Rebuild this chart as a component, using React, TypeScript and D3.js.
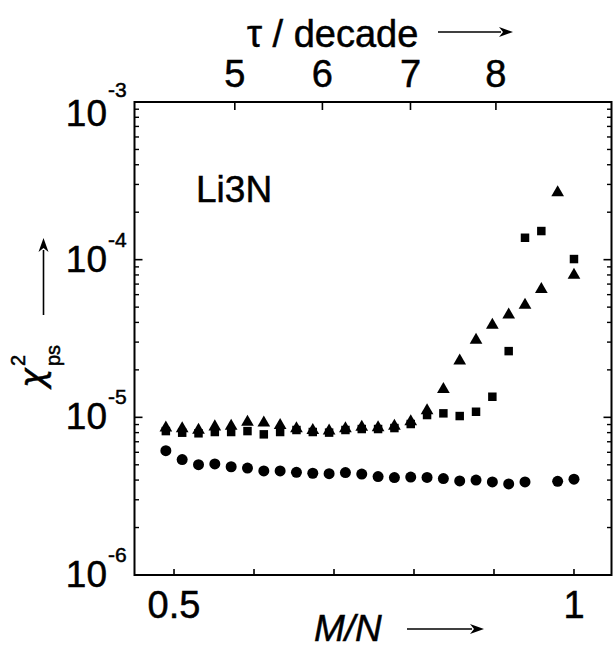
import React from "react";
import * as d3 from "d3";

// ---- data ----
const N_SITES = 49;
const circleM = [24, 25, 26, 27, 28, 29, 30, 31, 32, 33, 34, 35, 36, 37, 38, 39, 40, 41, 42, 43, 44, 45, 46, 48, 49];
const circleVal = [6.14e-6, 5.4e-6, 5.01e-6, 5.06e-6, 4.86e-6, 4.77e-6, 4.57e-6, 4.57e-6, 4.48e-6, 4.42e-6, 4.39e-6, 4.46e-6, 4.37e-6, 4.21e-6, 4.15e-6, 4.18e-6, 4.16e-6, 4.09e-6, 3.95e-6, 4.0e-6, 3.89e-6, 3.78e-6, 3.89e-6, 3.93e-6, 4.05e-6];

const triangleM = [24, 25, 26, 27, 28, 29, 30, 31, 32, 33, 34, 35, 36, 37, 38, 39, 40, 41, 42, 43, 44, 45, 46, 47, 48, 49];
const triangleVal = [8.59e-6, 8.47e-6, 8.31e-6, 8.72e-6, 8.81e-6, 9.34e-6, 9.24e-6, 8.9e-6, 8.47e-6, 8.27e-6, 8.21e-6, 8.49e-6, 8.68e-6, 8.62e-6, 8.81e-6, 9.41e-6, 1.104e-5, 1.505e-5, 2.28e-5, 3.09e-5, 3.85e-5, 4.47e-5, 5.16e-5, 6.48e-5, 2.66e-4, 7.99e-5];

const squareM = [24, 25, 26, 27, 28, 29, 30, 31, 32, 33, 34, 35, 36, 37, 38, 39, 40, 41, 42, 43, 44, 45, 46, 47, 49];
const squareVal = [8.18e-6, 7.99e-6, 7.92e-6, 8.07e-6, 8.07e-6, 8.18e-6, 7.8e-6, 8.07e-6, 8.31e-6, 8.07e-6, 8.0e-6, 8.31e-6, 8.43e-6, 8.43e-6, 8.55e-6, 9.07e-6, 1.034e-5, 1.06e-5, 1.019e-5, 1.085e-5, 1.351e-5, 2.63e-5, 1.377e-4, 1.519e-4, 1.009e-4];

const xTickValues = [0.5, 0.6, 0.7, 0.8, 0.9, 1.0];
const xTickLabels = ["0.5", "1"];
const xTickLabelValues = [0.5, 1.0];
const tauTicks = ["5", "6", "7", "8"];
const tauTickPos = [0.576, 0.6855, 0.7956, 0.9024];
const yExponents = [-3, -4, -5, -6];

// ---- layout ----
const W = 613;
const H = 651;
const left = 134.5;
const right = 611.5;
const top = 102;
const bottom = 575;
const FONT = "'Liberation Sans', Arial, Helvetica, sans-serif";
const TS = { stroke: "#000", strokeWidth: 0.5 } as const;

export default function App() {
  const x = d3.scaleLinear().domain([0.4506, 1.0469]).range([left, right]);
  const y = d3.scaleLog().domain([1e-6, 1e-3]).range([bottom, top]);

  const tri = d3.symbol(d3.symbolTriangle, 70)();
  const sq = d3.symbol(d3.symbolSquare, 72)();

  const minorY: number[] = [];
  for (let k = -6; k < -3; k++) {
    for (let m = 2; m <= 9; m++) minorY.push(m * Math.pow(10, k));
  }

  const arrow = (x1: number, y1: number, x2: number, y2: number) => {
    const ang = Math.atan2(y2 - y1, x2 - x1);
    const L = 14;
    const hw = 5;
    const bx = x2 - L * Math.cos(ang);
    const by = y2 - L * Math.sin(ang);
    const px = -Math.sin(ang) * hw;
    const py = Math.cos(ang) * hw;
    return (
      <g>
        <line x1={x1} y1={y1} x2={bx + 2 * Math.cos(ang)} y2={by + 2 * Math.sin(ang)} stroke="#000" strokeWidth={1.6} />
        <path d={`M${x2},${y2}L${bx + px},${by + py}L${bx + 4 * Math.cos(ang)},${by + 4 * Math.sin(ang)}L${bx - px},${by - py}Z`} fill="#000" />
      </g>
    );
  };

  return (
    <svg width={W} height={H} style={{ position: "absolute", left: 0, top: 0, background: "#fff" }} fontFamily={FONT}>
      <rect x={0} y={0} width={W} height={H} fill="#fff" />

      {/* frame */}
      <rect x={left} y={top} width={right - left} height={bottom - top} fill="none" stroke="#000" strokeWidth={2} />

      {/* y major & minor ticks (left and right, inward) */}
      {yExponents.map((e) => (
        <g key={"ym" + e}>
          <line x1={left} x2={left + 8} y1={y(Math.pow(10, e))} y2={y(Math.pow(10, e))} stroke="#000" strokeWidth={1.6} />
          <line x1={right} x2={right - 8} y1={y(Math.pow(10, e))} y2={y(Math.pow(10, e))} stroke="#000" strokeWidth={1.6} />
        </g>
      ))}
      {minorY.map((v, i) => (
        <g key={"yn" + i}>
          <line x1={left} x2={left + 4.5} y1={y(v)} y2={y(v)} stroke="#000" strokeWidth={1.4} />
          <line x1={right} x2={right - 4.5} y1={y(v)} y2={y(v)} stroke="#000" strokeWidth={1.4} />
        </g>
      ))}

      {/* x ticks bottom (inward) */}
      {xTickValues.map((v) => (
        <line key={"xt" + v} x1={x(v)} x2={x(v)} y1={bottom} y2={bottom - 6} stroke="#000" strokeWidth={1.6} />
      ))}
      {/* tau ticks top (inward) */}
      {tauTickPos.map((v, i) => (
        <line key={"tt" + i} x1={x(v)} x2={x(v)} y1={top} y2={top + 8} stroke="#000" strokeWidth={1.6} />
      ))}

      {/* y tick labels */}
      {yExponents.map((e) => {
        const ty = y(Math.pow(10, e));
        const first = e === -3;
        const base = ty + (first ? 24 : 12);
        const expBase = ty + (first ? -5 : -13);
        return (
          <g key={"yl" + e}>
            <text x={107} y={base} fontSize={37} textAnchor="end" fill="#000" {...TS}>10</text>
            <text x={108} y={expBase} fontSize={21} textAnchor="start" fill="#000" {...TS}>{String(e)}</text>
          </g>
        );
      })}

      {/* x tick labels */}
      {xTickLabelValues.map((v, i) => (
        <text key={"xl" + i} x={x(v)} y={618} fontSize={38} textAnchor="middle" fill="#000" {...TS}>{xTickLabels[i]}</text>
      ))}

      {/* tau labels */}
      {tauTicks.map((t, i) => (
        <text key={"tl" + i} x={x(tauTickPos[i])} y={87} fontSize={38} textAnchor="middle" fill="#000" {...TS}>{t}</text>
      ))}
      <text x={247} y={47} fontSize={38} fill="#000" {...TS}>τ / decade</text>
      {arrow(438, 32, 513, 32)}

      {/* x axis title */}
      <text x={314} y={641} fontSize={37} fontStyle="italic" fill="#000" {...TS}>M/N</text>
      {arrow(407, 629, 484, 629)}

      {/* y axis title */}
      {arrow(43.5, 315, 43.5, 238)}
      <g transform="translate(43.6,388) rotate(-90)">
        <text x={0} y={0} fontSize={33} fontFamily="'DejaVu Sans', sans-serif" fontStyle="italic" fill="#000" {...TS}>χ</text>
        <text x={22} y={-18.6} fontSize={20} fill="#000" {...TS}>2</text>
        <text x={22} y={16} fontSize={20} fill="#000" {...TS}>ps</text>
      </g>

      {/* annotation */}
      <text x={196} y={202} fontSize={37} fill="#000" {...TS}>Li3N</text>

      {/* markers */}
      {squareM.map((m, i) => (
        <path key={"s" + i} d={sq || ""} transform={`translate(${x(m / N_SITES)},${y(squareVal[i])})`} fill="#000" />
      ))}
      {triangleM.map((m, i) => (
        <path key={"t" + i} d={tri || ""} transform={`translate(${x(m / N_SITES)},${y(triangleVal[i])})`} fill="#000" />
      ))}
      {circleM.map((m, i) => (
        <circle key={"c" + i} cx={x(m / N_SITES)} cy={y(circleVal[i])} r={5.5} fill="#000" />
      ))}
    </svg>
  );
}
